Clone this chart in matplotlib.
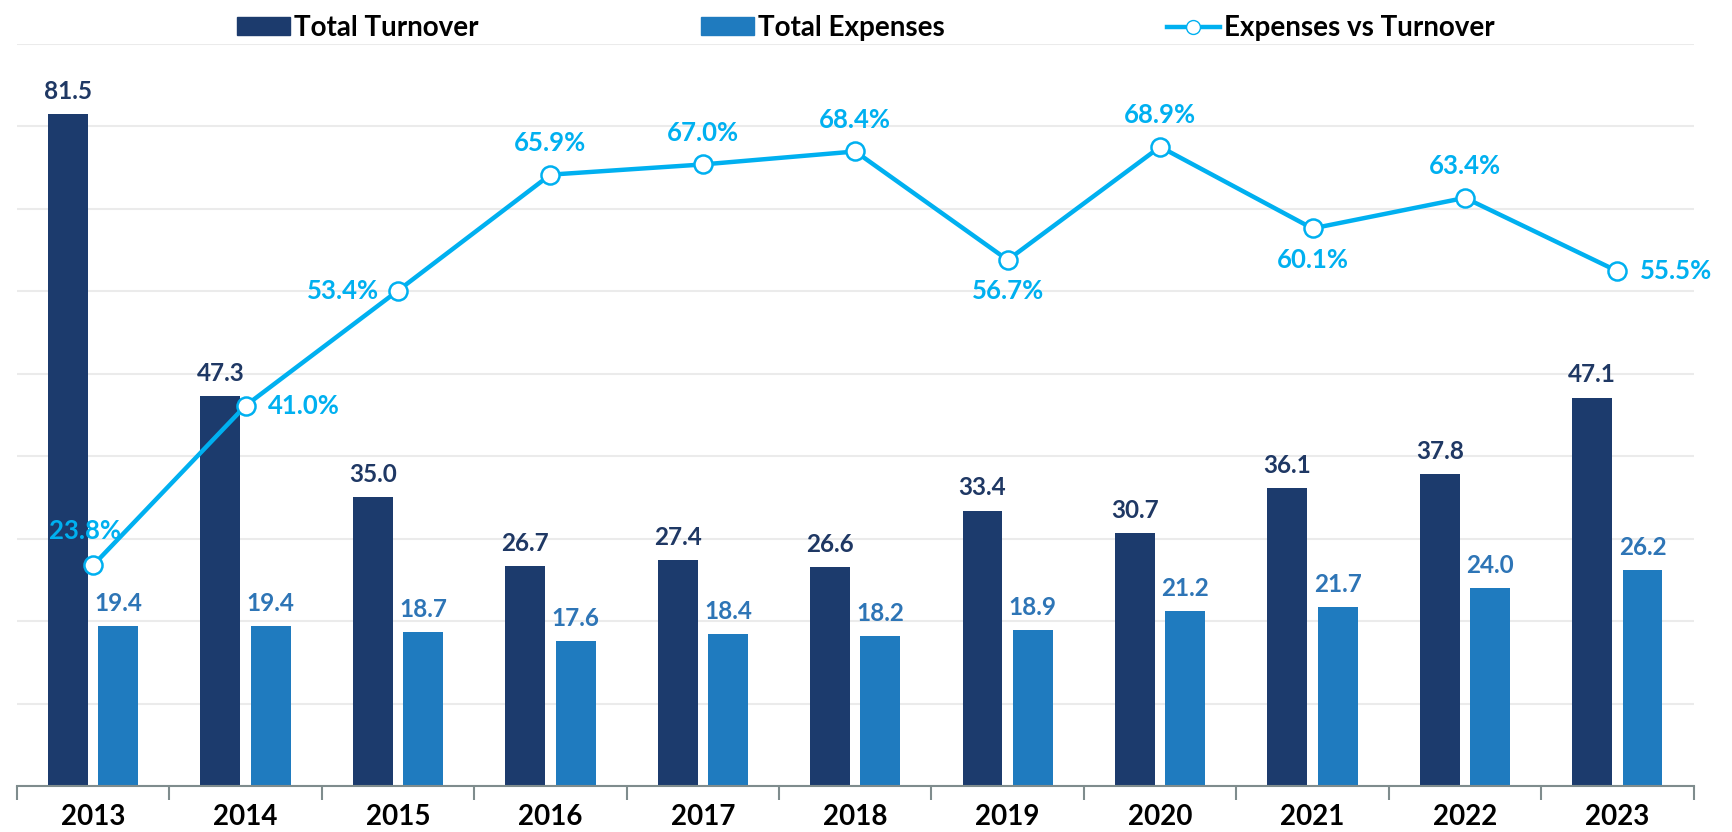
import matplotlib.pyplot as plt
import numpy as np
from matplotlib.lines import Line2D
from matplotlib.patches import Patch

plt.rcParams['font.family'] = ['Lato', 'DejaVu Sans']

years = ['2013', '2014', '2015', '2016', '2017', '2018', '2019', '2020', '2021', '2022', '2023']
turnover = [81.5, 47.3, 35.0, 26.7, 27.4, 26.6, 33.4, 30.7, 36.1, 37.8, 47.1]
expenses = [19.4, 19.4, 18.7, 17.6, 18.4, 18.2, 18.9, 21.2, 21.7, 24.0, 26.2]
ratio = [23.8, 41.0, 53.4, 65.9, 67.0, 68.4, 56.7, 68.9, 60.1, 63.4, 55.5]

# where each percentage label sits relative to its point
ratio_pos = ['upleft', 'right', 'left', 'up', 'up', 'up', 'down', 'up', 'down', 'up', 'right']

dark = '#1c3b6d'
mid = '#1f7bbf'
cyan = '#00b0f0'
dark_txt = '#1f3864'
mid_txt = '#2e75b6'

fig = plt.figure(figsize=(17.32, 8.32), dpi=100)
ax = fig.add_axes([0.0098, 0.0553, 0.968, 0.892])

x = np.arange(len(years))
w = 0.262
off = 0.165
ax.bar(x - off, turnover, w, color=dark, zorder=2)
ax.bar(x + off, expenses, w, color=mid, zorder=2)

for xi, v in zip(x, turnover):
    ax.annotate(f'{v:.1f}', (xi - off, v), xytext=(0, 8), textcoords='offset points',
                ha='center', va='bottom', fontsize=17.5, fontweight='bold', color=dark_txt)
for xi, v in zip(x, expenses):
    ax.annotate(f'{v:.1f}', (xi + off, v), xytext=(0, 8), textcoords='offset points',
                ha='center', va='bottom', fontsize=17.5, fontweight='bold', color=mid_txt)

ax2 = ax.twinx()
ax2.set_ylim(0, 80)
ax2.axis('off')

ax.set_xlim(-0.5, len(years) - 0.5)
ax.set_ylim(0, 90)
ax.set_yticks(np.arange(0, 91, 10))
ax.yaxis.grid(True, color='#ebebeb', linewidth=1.5, zorder=0)
ax.set_axisbelow(True)
ax.tick_params(axis='y', left=False, right=False, labelleft=False)
for s in ['top', 'left', 'right']:
    ax.spines[s].set_visible(False)
ax.spines['bottom'].set_color('#7f8c8d')
ax.spines['bottom'].set_linewidth(1.5)

ax.set_xticks(x)
ax.set_xticklabels(years, fontsize=20, fontweight='bold')
ax.tick_params(axis='x', length=0, pad=13)
ax.set_xticks(np.arange(-0.5, len(years)), minor=True)
ax.tick_params(axis='x', which='minor', length=10, width=1.5, color='#7f8c8d')

ax2.plot(x, ratio, color=cyan, linewidth=3.2, marker='o', markersize=13,
         markerfacecolor='white', markeredgecolor=cyan, markeredgewidth=1.8, zorder=3)

offsets = {'up': (0, 14, 'center', 'bottom'), 'down': (0, -14, 'center', 'top'),
           'left': (-14, 0, 'right', 'center'), 'right': (16, 0, 'left', 'center'),
           'upleft': (-6, 16, 'center', 'bottom')}
for xi, v, p in zip(x, ratio, ratio_pos):
    dx, dy, ha, va = offsets[p]
    ax2.annotate(f'{v:.1f}%', (xi, v), xytext=(dx, dy), textcoords='offset points',
                 ha=ha, va=va, fontsize=18.5, fontweight='bold', color=cyan)

handles = [Patch(color=dark), Patch(color=mid),
           Line2D([], [], color=cyan, linewidth=3.2, marker='o', markersize=10,
                  markerfacecolor='white', markeredgecolor=cyan)]
fig.legend(handles, ['Total Turnover', 'Total Expenses', 'Expenses vs Turnover'],
           loc='upper center', bbox_to_anchor=(0.5, 1.012), ncol=3, frameon=False,
           handlelength=1.9, handleheight=0.6, handletextpad=0.15,
           columnspacing=8.0, prop={'weight': 'bold', 'size': 20})

fig.savefig('out.png', dpi=100)
